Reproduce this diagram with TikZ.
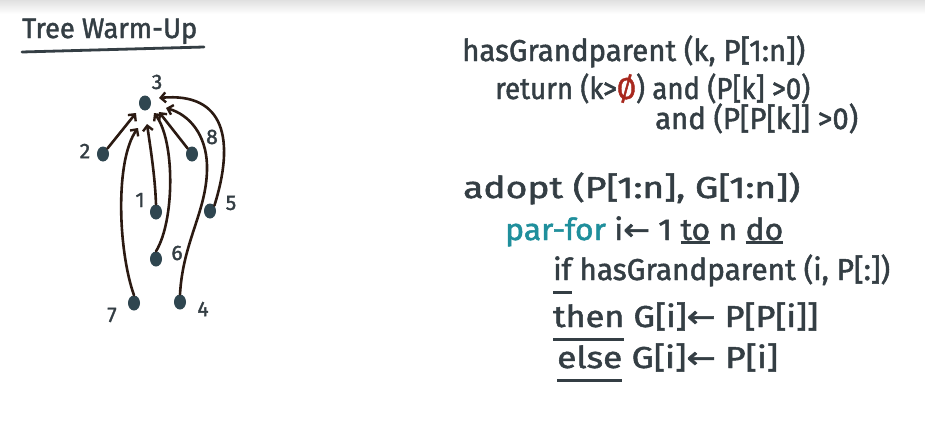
\documentclass[tikz,border=0pt]{standalone}
\usepackage{fontspec}
\setmainfont{Fira Sans}[FakeBold=1.6]
\newfontfamily\symfont{DejaVu Sans}[FakeBold=1.6]
\usetikzlibrary{arrows.meta,shapes.geometric}
\definecolor{ink}{HTML}{343E44}
\definecolor{edgeink}{HTML}{2B1A12}
\definecolor{dotink}{HTML}{2F4650}
\definecolor{redink}{HTML}{A8281E}
\definecolor{tealink}{HTML}{1F8F9C}
\newsavebox\ulbox
\newcommand\ulw[2][0.45em]{\sbox\ulbox{#2}\rlap{\raisebox{-#1}{\rule{\wd\ulbox}{0.1em}}}\usebox\ulbox}
\newcommand\fitl[2]{\resizebox{#1}{1.08\height}{#2}}
\newcommand\lar{{\symfont\char"2190}}
\tikzset{
  dot/.style={ellipse, fill=dotink, minimum width=12pt, minimum height=15pt, inner sep=0pt},
  num/.style={text=ink, font=\fontsize{21}{21}\selectfont, inner sep=0pt},
  edge/.style={draw=edgeink, line width=2.6pt, line cap=round,
    -{Straight Barb[length=5pt,width=10pt,line width=2.4pt]}},
  code/.style={anchor=base west, inner sep=0pt, text=ink, font=\fontsize{28}{28}\selectfont},
}
\begin{document}
\begin{tikzpicture}[x=1pt,y=-1pt]
\useasboundingbox (0,0) rectangle (925,436);
\fill[white] (0,0) rectangle (925,436);
\shade[top color=black!12, bottom color=white] (0,0) rectangle (925,14);

% title
\node[anchor=base west, inner sep=0pt, text=ink, font=\fontsize{26}{26}\selectfont] (title) at (22,38) {\fitl{175pt}{Tree Warm-Up}};
\draw[ink, line width=2.8pt, line cap=round] (22,52) -- (204,47);

% tree nodes
\node[dot] (n3) at (145,103) {};
\node[dot] (n2) at (103,154) {};
\node[dot] (n8) at (192,154) {};
\node[dot] (n1) at (156,212) {};
\node[dot] (n5) at (210,211) {};
\node[dot] (n6) at (156,259) {};
\node[dot] (n7) at (134,303) {};
\node[dot] (n4) at (180,302) {};

\node[num] (l3) at (157,82) {3};
\node[num] (l2) at (85,151) {2};
\node[num] (l8) at (212,137) {8};
\node[num] (l1) at (140,200) {1};
\node[num] (l5) at (231,203) {5};
\node[num] (l6) at (177,253) {6};
\node[num] (l7) at (112,315) {7};
\node[num] (l4) at (203,309) {4};

% arrow ends near node 3
\coordinate (a2) at ([shift={(-9,10)}]n3.center);
\coordinate (a7) at ([shift={(-7,25)}]n3.center);
\coordinate (a1) at ([shift={(2,21)}]n3.center);
\coordinate (a6) at ([shift={(9,10)}]n3.center);
\coordinate (a8) at ([shift={(14,9)}]n3.center);
\coordinate (a4) at ([shift={(21,5)}]n3.center);
\coordinate (a5) at ([shift={(14,-5)}]n3.center);

\draw[edge] (n2) -- (a2);
\draw[edge] (n7.north) .. controls (118,250) and (115,160) .. (a7);
\draw[edge] (n1.north) .. controls (155,175) and (150,145) .. (a1);
\draw[edge] (n6.north) .. controls (175,220) and (175,140) .. (a6);
\draw[edge] (n8) -- (a8);
\draw[edge] (n4.north) .. controls (183,240) and (208,210) .. (207,165) .. controls (206,135) and (190,115) .. (a4);
\draw[edge] (n5.north east) .. controls (235,140) and (225,92) .. (a5);

% code
\node[code] (c1) at (462,61) {\fitl{343pt}{hasGrandparent (k, P[1:n])}};
\node[code] (c2) at (495,99) {\fitl{315pt}{return (k>\textcolor{redink}{Ø}) and (P[k] >0)}};
\node[code] (c3) at (655,129) {\fitl{203pt}{and (P[P[k]] >0)}};
\node[code] (c4) at (463,198) {\fitl{337pt}{adopt (P[1:n], G[1:n])}};
\node[code] (c5) at (505,240) {\fitl{278pt}{\textcolor{tealink}{par-for} i\lar\ 1 \ulw[0.14em]{to} n \ulw[0.14em]{do}}};
\node[code] (c6) at (553,280) {\fitl{337pt}{\ulw{if} hasGrandparent (i, P[:])}};
\node[code] (c7) at (553,327) {\fitl{265pt}{\ulw{then} G[i]\lar\ P[P[i]]}};
\node[code] (c8) at (557,368) {\fitl{221pt}{\ulw{else} G[i]\lar\ P[i]}};
\end{tikzpicture}
\end{document}
